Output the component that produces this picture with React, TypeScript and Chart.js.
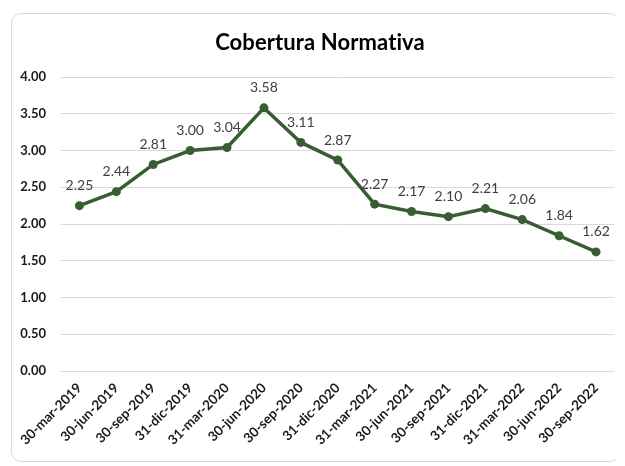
import React, { useEffect, useRef } from "react";
import { Chart, registerables } from "chart.js";

Chart.register(...registerables);

const categories = [
  "30-mar-2019", "30-jun-2019", "30-sep-2019", "31-dic-2019", "31-mar-2020",
  "30-jun-2020", "30-sep-2020", "31-dic-2020", "31-mar-2021", "30-jun-2021",
  "30-sep-2021", "31-dic-2021", "31-mar-2022", "30-jun-2022", "30-sep-2022",
];
const coberturaValues = [2.25, 2.44, 2.81, 3.0, 3.04, 3.58, 3.11, 2.87, 2.27, 2.17, 2.1, 2.21, 2.06, 1.84, 1.62];
const chartTitle = "Cobertura Normativa";
const yMin = 0;
const yMax = 4;
const yStep = 0.5;

const FONT = "Lato, 'Open Sans', sans-serif";
const LINE_COLOR = "#385d33";

const titlePlugin = {
  id: "customTitle",
  afterDraw(chart: any) {
    const ctx = chart.ctx;
    ctx.save();
    ctx.font = `bold 22px ${FONT}`;
    try {
      (ctx as any).letterSpacing = "0.1px";
    } catch (e) {}
    ctx.fillStyle = "#000000";
    ctx.textAlign = "center";
    ctx.textBaseline = "middle";
    ctx.fillText(chartTitle, 308, 29);
    ctx.restore();
  },
};

const dataLabelPlugin = {
  id: "dataLabels",
  afterDatasetsDraw(chart: any) {
    const ctx = chart.ctx;
    const meta = chart.getDatasetMeta(0);
    const values = chart.data.datasets[0].data as number[];
    ctx.save();
    ctx.font = `14px ${FONT}`;
    ctx.fillStyle = "#404040";
    ctx.textAlign = "center";
    ctx.textBaseline = "middle";
    meta.data.forEach((pt: any, i: number) => {
      ctx.fillText(values[i].toFixed(2), pt.x, pt.y - 20);
    });
    ctx.restore();
  },
};

export default function App() {
  const canvasRef = useRef<HTMLCanvasElement | null>(null);

  useEffect(() => {
    if (!canvasRef.current) return;
    const chart = new Chart(canvasRef.current, {
      type: "line",
      data: {
        labels: categories,
        datasets: [
          {
            label: chartTitle,
            data: coberturaValues,
            borderColor: LINE_COLOR,
            backgroundColor: LINE_COLOR,
            borderWidth: 3.5,
            pointRadius: 4.5,
            pointBackgroundColor: LINE_COLOR,
            pointBorderColor: LINE_COLOR,
            pointBorderWidth: 0,
            tension: 0,
          },
        ],
      },
      options: {
        responsive: false,
        animation: false,
        devicePixelRatio: 1,
        layout: { padding: { left: 0, right: 1, top: 63, bottom: 0 } },
        plugins: {
          legend: { display: false },
          tooltip: { enabled: false },
          title: { display: false },
        },
        scales: {
          x: {
            type: "category",
            offset: true,
            grid: { display: false, drawTicks: false },
            border: { display: false },
            ticks: {
              minRotation: 45,
              maxRotation: 45,
              autoSkip: false,
              padding: 9,
              color: "#1a1a1a",
              font: { family: FONT, size: 13.5, weight: "bold" },
            },
            afterFit: (scale: any) => {
              scale.height = 90;
            },
          },
          y: {
            min: yMin,
            max: yMax,
            grid: { color: "#d9d9d9", lineWidth: 1, drawTicks: false },
            border: { display: false },
            ticks: {
              stepSize: yStep,
              padding: 15,
              color: "#1a1a1a",
              font: { family: FONT, size: 13, weight: "bold" },
              callback: (v: any) => Number(v).toFixed(2),
            },
            afterFit: (scale: any) => {
              scale.width = 49;
            },
          },
        },
      },
      plugins: [dataLabelPlugin, titlePlugin],
    });
    return () => chart.destroy();
  }, []);

  return (
    <div
      style={{
        marginLeft: 3,
        marginTop: 5,
        width: 607,
        height: 447,
        border: "1px solid #d9d9d9",
        borderRadius: 10,
        background: "#ffffff",
        overflow: "hidden",
      }}
    >
      <canvas ref={canvasRef} width={607} height={447} style={{ display: "block" }} />
    </div>
  );
}
